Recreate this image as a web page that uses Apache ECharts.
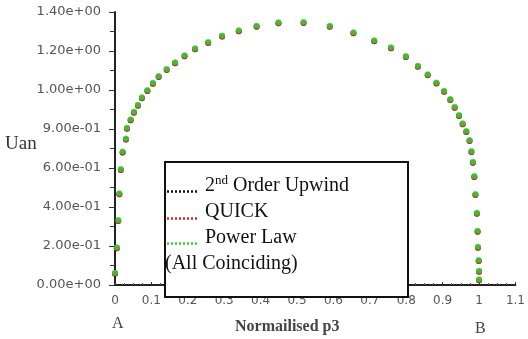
<!DOCTYPE html>
<html>
<head>
<meta charset="utf-8">
<script src="https://cdn.jsdelivr.net/npm/echarts@6/dist/echarts.min.js"></script>
<style>
  html, body { margin: 0; padding: 0; background: #fff; }
  #chart { width: 528px; height: 339px; }
</style>
</head>
<body>
<div id="chart"></div>
<script>
// Normalised position along the section (A = 0, B = 1)
const p3 = [
  0.000, 0.005, 0.009, 0.012, 0.016, 0.021, 0.030, 0.033, 0.043, 0.052,
  0.063, 0.074, 0.089, 0.104, 0.120, 0.142, 0.165, 0.191, 0.220, 0.256,
  0.294, 0.340, 0.389, 0.449, 0.518, 0.590, 0.655, 0.712, 0.758, 0.799,
  0.832, 0.859, 0.883, 0.904, 0.921, 0.933, 0.945, 0.955, 0.965, 0.974,
  0.979, 0.983, 0.987, 0.990, 0.994, 0.996, 0.997, 0.999, 1.000, 1.000
];
// Analytical velocity Uan at each position (all three schemes coincide)
const uan = [
  0.063, 0.193, 0.333, 0.470, 0.595, 0.684, 0.751, 0.807, 0.850, 0.889,
  0.925, 0.963, 1.000, 1.037, 1.072, 1.108, 1.142, 1.178, 1.214, 1.246,
  1.279, 1.306, 1.330, 1.347, 1.349, 1.330, 1.296, 1.255, 1.219, 1.174,
  1.125, 1.081, 1.039, 0.996, 0.954, 0.914, 0.872, 0.829, 0.790, 0.744,
  0.687, 0.632, 0.559, 0.467, 0.371, 0.278, 0.196, 0.128, 0.073, 0.029
];
const schemes = ['2nd Order Upwind', 'QUICK', 'Power Law'];
const xTickLabels = ['0', '0.1', '0.2', '0.3', '0.4', '0.5', '0.6', '0.7', '0.8', '0.9', '1', '1.1'];
const yTickLabels = ['0.00e+00', '2.00e-01', '4.00e-01', '6.00e-01', '9.00e-01', '1.00e+00', '1.20e+00', '1.40e+00'];

const points = p3.map((x, i) => [x, uan[i]]);

const colors = ['#111111', '#d42a1e', '#33d433'];
const offsets = [[0, 1], [0, 0.9], [0, 0]];

const chart = echarts.init(document.getElementById('chart'), null, { renderer: 'canvas' });

const tickFont = { fontFamily: 'DejaVu Sans', color: '#555' };
const serif = 'Liberation Serif';

chart.setOption({
  animation: false,
  backgroundColor: '#fff',
  grid: { left: 115, top: 12, right: 8, bottom: 54, containLabel: false },
  xAxis: {
    type: 'value', min: 0, max: 1.1, interval: 0.1,
    axisLine: { show: true, onZero: false, lineStyle: { color: '#222', width: 2 } },
    axisTick: { show: true, inside: true, length: 3, lineStyle: { color: '#333', width: 1 } },
    minorTick: { show: true, splitNumber: 4, length: 2, lineStyle: { color: '#555' } },
    splitLine: { show: false },
    axisLabel: Object.assign({
      fontSize: 12, margin: 10,
      formatter: v => xTickLabels[Math.round(v * 10)]
    }, tickFont)
  },
  yAxis: {
    type: 'value', min: 0, max: 1.4, interval: 0.2,
    axisLine: { show: true, onZero: false, lineStyle: { color: '#222', width: 2 } },
    axisTick: { show: true, inside: false, length: 6, lineStyle: { color: '#333', width: 1 } },
    minorTick: { show: true, splitNumber: 2, length: 5, lineStyle: { color: '#333' } },
    splitLine: { show: false },
    axisLabel: Object.assign({
      fontSize: 13, margin: 14,
      formatter: v => yTickLabels[Math.round(v / 0.2)]
    }, tickFont)
  },
  series: schemes.map((name, k) => ({
    name: name,
    type: 'scatter',
    data: points,
    symbol: 'circle',
    symbolSize: 6,
    symbolOffset: offsets[k],
    itemStyle: { color: colors[k] },
    z: 2 + k
  })),
  graphic: [
    { type: 'text', left: 5, top: 135, z: 100,
      style: { text: 'Uan', font: '19px "' + serif + '"', fill: '#333' } },
    { type: 'text', left: 112, top: 316, z: 100,
      style: { text: 'A', font: '16px "' + serif + '"', fill: '#444' } },
    { type: 'text', left: 475, top: 321, z: 100,
      style: { text: 'B', font: '16px "' + serif + '"', fill: '#444' } },
    { type: 'text', left: 235, top: 319, z: 100,
      style: { text: 'Normailised p3', font: 'bold 16px "' + serif + '"', fill: '#444' } },
    // legend panel
    { type: 'rect', z: 100,
      shape: { x: 165, y: 162, width: 243, height: 135 },
      style: { fill: '#fff', stroke: '#111', lineWidth: 2 } },
    { type: 'line', z: 101,
      shape: { x1: 167, y1: 191.5, x2: 199, y2: 191.5 },
      style: { stroke: colors[0], lineWidth: 2.5, lineDash: [2, 2] } },
    { type: 'line', z: 101,
      shape: { x1: 167, y1: 218.5, x2: 199, y2: 218.5 },
      style: { stroke: colors[1], lineWidth: 2.5, lineDash: [2, 2] } },
    { type: 'line', z: 101,
      shape: { x1: 167, y1: 243.5, x2: 199, y2: 243.5 },
      style: { stroke: colors[2], lineWidth: 2.5, lineDash: [2, 2] } },
    { type: 'text', left: 205, top: 174, z: 101,
      style: {
        text: '{b|2}{s|nd}{b| Order Upwind}',
        rich: {
          b: { font: '20px "' + serif + '"', fill: '#111', verticalAlign: 'bottom' },
          s: { font: '13px "' + serif + '"', fill: '#111', verticalAlign: 'top', padding: [0, 0, 9, 0] }
        }
      } },
    { type: 'text', left: 205, top: 202, z: 101,
      style: { text: 'QUICK', font: '20px "' + serif + '"', fill: '#111' } },
    { type: 'text', left: 205, top: 228, z: 101,
      style: { text: 'Power Law', font: '20px "' + serif + '"', fill: '#111' } },
    { type: 'text', left: 165, top: 254, z: 101,
      style: { text: '(All Coinciding)', font: '20px "' + serif + '"', fill: '#111' } }
  ]
});
</script>
</body>
</html>
